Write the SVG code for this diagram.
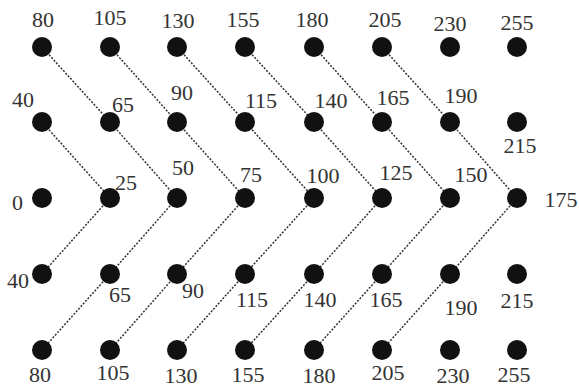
<svg xmlns="http://www.w3.org/2000/svg" width="579" height="389" viewBox="0 0 579 389">
<style>
.d{fill:#111}
.t{font-size:22px;fill:#333;text-anchor:middle}
.c{stroke:#333;stroke-width:1.5;stroke-dasharray:2 1.5;fill:none}
</style>
<rect width="579" height="389" fill="#fff"/>
<g id="connectors" class="c">
<line x1="42" y1="47" x2="110" y2="122"/>
<line x1="110" y1="47" x2="177" y2="122"/>
<line x1="177" y1="47" x2="245" y2="122"/>
<line x1="245" y1="47" x2="314" y2="122"/>
<line x1="314" y1="47" x2="382" y2="122"/>
<line x1="382" y1="47" x2="450" y2="122"/>
<line x1="42" y1="122" x2="110" y2="198"/>
<line x1="110" y1="122" x2="177" y2="198"/>
<line x1="177" y1="122" x2="245" y2="198"/>
<line x1="245" y1="122" x2="314" y2="198"/>
<line x1="314" y1="122" x2="382" y2="198"/>
<line x1="382" y1="122" x2="450" y2="198"/>
<line x1="450" y1="122" x2="517" y2="198"/>
<line x1="110" y1="198" x2="42" y2="274"/>
<line x1="177" y1="198" x2="110" y2="274"/>
<line x1="245" y1="198" x2="177" y2="274"/>
<line x1="314" y1="198" x2="245" y2="274"/>
<line x1="382" y1="198" x2="314" y2="274"/>
<line x1="450" y1="198" x2="382" y2="274"/>
<line x1="517" y1="198" x2="450" y2="274"/>
<line x1="110" y1="274" x2="42" y2="350"/>
<line x1="177" y1="274" x2="110" y2="350"/>
<line x1="245" y1="274" x2="177" y2="350"/>
<line x1="314" y1="274" x2="245" y2="350"/>
<line x1="382" y1="274" x2="314" y2="350"/>
<line x1="450" y1="274" x2="382" y2="350"/>
</g>
<g id="nodes" font-family="Liberation Serif, Times New Roman, serif">
<g id="r0c0"><circle class="d" cx="42" cy="47" r="10"/><text class="t" x="43" y="27">80</text></g>
<g id="r0c1"><circle class="d" cx="110" cy="47" r="10"/><text class="t" x="110" y="25">105</text></g>
<g id="r0c2"><circle class="d" cx="177" cy="47" r="10"/><text class="t" x="178" y="28">130</text></g>
<g id="r0c3"><circle class="d" cx="245" cy="47" r="10"/><text class="t" x="243" y="27">155</text></g>
<g id="r0c4"><circle class="d" cx="314" cy="47" r="10"/><text class="t" x="312" y="27">180</text></g>
<g id="r0c5"><circle class="d" cx="382" cy="47" r="10"/><text class="t" x="385" y="27">205</text></g>
<g id="r0c6"><circle class="d" cx="450" cy="47" r="10"/><text class="t" x="450" y="31">230</text></g>
<g id="r0c7"><circle class="d" cx="517" cy="47" r="10"/><text class="t" x="517" y="30">255</text></g>
<g id="r1c0"><circle class="d" cx="42" cy="122" r="10"/><text class="t" x="23" y="107">40</text></g>
<g id="r1c1"><circle class="d" cx="110" cy="122" r="10"/><text class="t" x="123" y="112">65</text></g>
<g id="r1c2"><circle class="d" cx="177" cy="122" r="10"/><text class="t" x="182" y="100">90</text></g>
<g id="r1c3"><circle class="d" cx="245" cy="122" r="10"/><text class="t" x="261" y="108">115</text></g>
<g id="r1c4"><circle class="d" cx="314" cy="122" r="10"/><text class="t" x="331" y="108">140</text></g>
<g id="r1c5"><circle class="d" cx="382" cy="122" r="10"/><text class="t" x="393" y="105">165</text></g>
<g id="r1c6"><circle class="d" cx="450" cy="122" r="10"/><text class="t" x="461" y="103">190</text></g>
<g id="r1c7"><circle class="d" cx="517" cy="122" r="10"/><text class="t" x="520" y="153">215</text></g>
<g id="r2c0"><circle class="d" cx="42" cy="198" r="10"/><text class="t" x="17.5" y="210">0</text></g>
<g id="r2c1"><circle class="d" cx="110" cy="198" r="10"/><text class="t" x="126" y="190">25</text></g>
<g id="r2c2"><circle class="d" cx="177" cy="198" r="10"/><text class="t" x="183" y="175">50</text></g>
<g id="r2c3"><circle class="d" cx="245" cy="198" r="10"/><text class="t" x="251" y="182">75</text></g>
<g id="r2c4"><circle class="d" cx="314" cy="198" r="10"/><text class="t" x="323" y="183">100</text></g>
<g id="r2c5"><circle class="d" cx="382" cy="198" r="10"/><text class="t" x="396" y="180">125</text></g>
<g id="r2c6"><circle class="d" cx="450" cy="198" r="10"/><text class="t" x="471" y="182">150</text></g>
<g id="r2c7"><circle class="d" cx="517" cy="198" r="10"/><text class="t" x="561" y="207">175</text></g>
<g id="r3c0"><circle class="d" cx="42" cy="274" r="10"/><text class="t" x="18" y="288">40</text></g>
<g id="r3c1"><circle class="d" cx="110" cy="274" r="10"/><text class="t" x="120" y="302">65</text></g>
<g id="r3c2"><circle class="d" cx="177" cy="274" r="10"/><text class="t" x="193" y="298">90</text></g>
<g id="r3c3"><circle class="d" cx="245" cy="274" r="10"/><text class="t" x="252" y="307">115</text></g>
<g id="r3c4"><circle class="d" cx="314" cy="274" r="10"/><text class="t" x="320" y="307">140</text></g>
<g id="r3c5"><circle class="d" cx="382" cy="274" r="10"/><text class="t" x="386" y="307">165</text></g>
<g id="r3c6"><circle class="d" cx="450" cy="274" r="10"/><text class="t" x="461" y="315">190</text></g>
<g id="r3c7"><circle class="d" cx="517" cy="274" r="10"/><text class="t" x="517" y="308">215</text></g>
<g id="r4c0"><circle class="d" cx="42" cy="350" r="10"/><text class="t" x="40" y="382">80</text></g>
<g id="r4c1"><circle class="d" cx="110" cy="350" r="10"/><text class="t" x="113" y="380">105</text></g>
<g id="r4c2"><circle class="d" cx="177" cy="350" r="10"/><text class="t" x="181" y="383">130</text></g>
<g id="r4c3"><circle class="d" cx="245" cy="350" r="10"/><text class="t" x="248" y="382">155</text></g>
<g id="r4c4"><circle class="d" cx="314" cy="350" r="10"/><text class="t" x="319" y="383">180</text></g>
<g id="r4c5"><circle class="d" cx="382" cy="350" r="10"/><text class="t" x="388" y="380">205</text></g>
<g id="r4c6"><circle class="d" cx="450" cy="350" r="10"/><text class="t" x="453" y="383">230</text></g>
<g id="r4c7"><circle class="d" cx="517" cy="350" r="10"/><text class="t" x="514" y="382">255</text></g>
</g>
</svg>
